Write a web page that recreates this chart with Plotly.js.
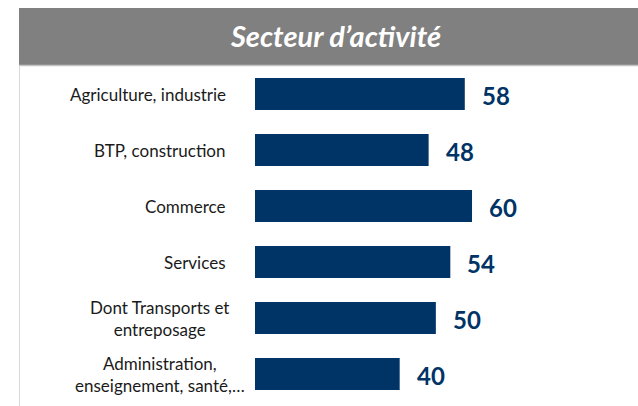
<!DOCTYPE html>
<html>
<head>
<meta charset="utf-8">
<script src="https://cdn.plot.ly/plotly-3.0.1.min.js"></script>
<style>html,body{margin:0;padding:0;background:#fff;}#chart{width:638px;height:406px;}</style>
</head>
<body>
<div id="chart"></div>
<script>
const categories = [
  "Agriculture, industrie",
  "BTP, construction",
  "Commerce",
  "Services",
  "Dont Transports et<br>entreposage",
  "Administration,<br>enseignement, santé,…"
];
const values = [58, 48, 60, 54, 50, 40];
const chartTitle = "Secteur d’activité";

const W = 638, H = 406;
const navy = "#003366";

const annotations = [];
categories.forEach((c, i) => {
  const multi = c.indexOf("<br>") >= 0;
  annotations.push({
    xref: "paper", yref: "y",
    x: multi ? 160 / W : 228 / W,
    y: i,
    xanchor: multi ? "center" : "right",
    yanchor: "middle",
    align: multi ? "center" : "right",
    text: c,
    showarrow: false,
    font: {family: "Lato, 'Open Sans', sans-serif", size: 17, color: "#1a1a1a"}
  });
  annotations.push({
    xref: "x", yref: "y",
    x: values[i], y: i,
    xanchor: "left", yanchor: "middle",
    xshift: 15, yshift: -1,
    text: String(values[i]),
    showarrow: false,
    font: {family: "Lato, 'Open Sans', sans-serif", size: 24, color: navy, weight: "bold"}
  });
});

const data = [{
  type: "bar",
  orientation: "h",
  y: categories.map((c, i) => i),
  x: values,
  marker: {color: navy},
  hoverinfo: "skip"
}];

const layout = {
  width: W, height: H,
  margin: {l: 0, r: 0, t: 0, b: 0},
  paper_bgcolor: "#ffffff",
  plot_bgcolor: "rgba(0,0,0,0)",
  showlegend: false,
  bargap: 0.43,
  title: {
    text: "<b><i>" + chartTitle + "</i></b>",
    x: 336 / W, xanchor: "center",
    y: 1 - 37 / H, yanchor: "middle",
    xref: "paper", yref: "container",
    font: {family: "Lato, 'Open Sans', sans-serif", size: 29, color: "#ffffff"}
  },
  xaxis: {
    domain: [255 / W, (255 + 361.7) / W],
    range: [0, 100],
    visible: false, showgrid: false, zeroline: false, fixedrange: true
  },
  yaxis: {
    domain: [(H - 402) / H, (H - 66) / H],
    range: [5.5, -0.5],
    visible: false, showgrid: false, zeroline: false, fixedrange: true
  },
  shapes: [
    {type: "rect", xref: "paper", yref: "paper", x0: 19 / W, x1: 1, y0: 1 - 65 / H, y1: 1 - 8 / H,
     fillcolor: "#808080", line: {width: 0}, layer: "below"},
    {type: "line", xref: "paper", yref: "paper", x0: 19 / W, x1: 1, y0: 1 - 65.5 / H, y1: 1 - 65.5 / H,
     line: {color: "#c4c4c4", width: 1.5}},
    {type: "line", xref: "paper", yref: "paper", x0: 19.5 / W, x1: 19.5 / W, y0: 0, y1: 1 - 66 / H,
     line: {color: "#d9d9d9", width: 1}}
  ],
  annotations: annotations
};

Plotly.newPlot("chart", data, layout, {displayModeBar: false, staticPlot: true});
</script>
</body>
</html>
